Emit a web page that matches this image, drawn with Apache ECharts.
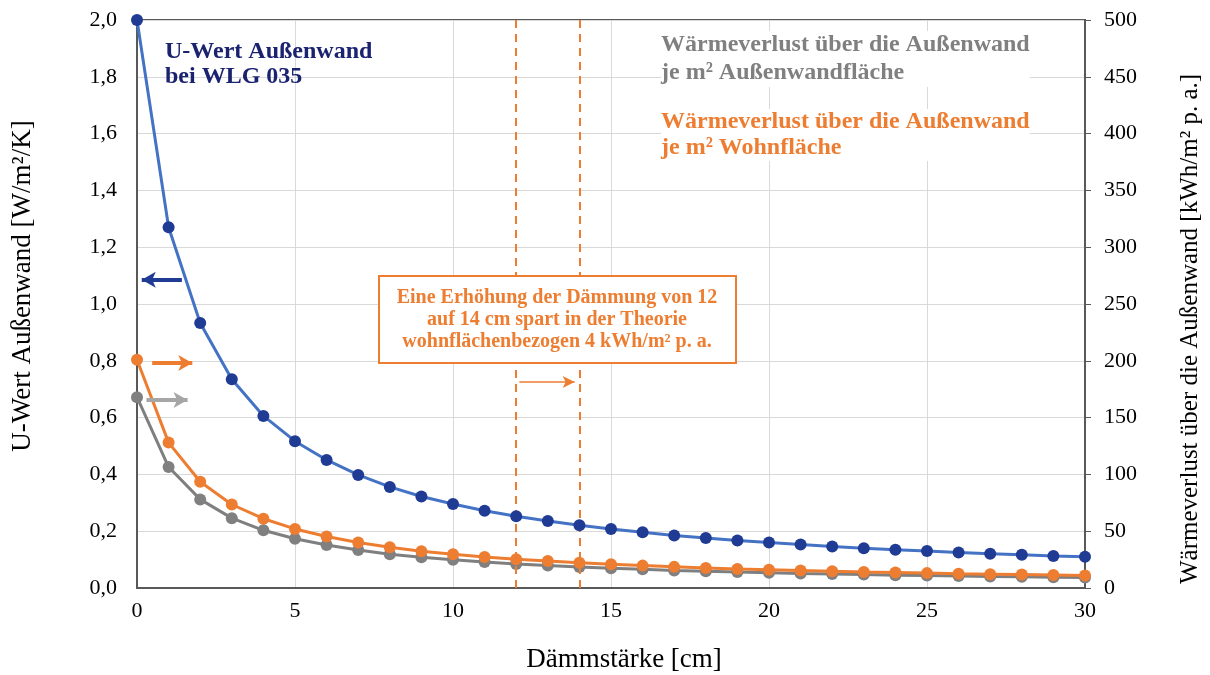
<!DOCTYPE html>
<html><head><meta charset="utf-8">
<script src="https://cdn.jsdelivr.net/npm/echarts@6/dist/echarts.min.js"></script>
<style>html,body{margin:0;padding:0;background:#fff}#c{width:1210px;height:675px}</style>
</head><body><div id="c"></div>
<script>
const thickness = [0,1,2,3,4,5,6,7,8,9,10,11,12,13,14,15,16,17,18,19,20,21,22,23,24,25,26,27,28,29,30];
const uWert = [2.0,1.27,0.933,0.735,0.606,0.517,0.451,0.398,0.356,0.322,0.296,0.272,0.253,0.236,0.221,0.208,0.196,0.185,0.176,0.167,0.160,0.153,0.146,0.140,0.135,0.130,0.125,0.121,0.117,0.113,0.110];
const verlustWohn = [201,128,93.5,73.5,61,52,45.3,40,35.8,32.4,29.7,27.3,25.4,23.7,22.2,20.9,19.7,18.6,17.7,16.8,16.1,15.4,14.7,14.1,13.6,13.1,12.6,12.2,11.8,11.4,11.0];
const verlustWand = [168,106.5,78,61.5,50.8,43.3,37.8,33.4,29.8,27,24.8,22.8,21.2,19.8,18.5,17.4,16.4,15.5,14.7,14.0,13.4,12.8,12.3,11.8,11.3,10.9,10.5,10.1,9.8,9.5,9.2];

const pairs = ys => thickness.map((x,i)=>[x, ys[i]]);
const serif = '"Liberation Serif","DejaVu Serif",serif';

const chart = echarts.init(document.getElementById('c'));
chart.setOption({
  animation:false,
  backgroundColor:'#fff',
  grid:{left:137,right:125,top:20,bottom:87,show:true,borderColor:'#595959',borderWidth:2,backgroundColor:'transparent'},
  xAxis:{type:'value',min:0,max:30,interval:5,
    axisLine:{lineStyle:{color:'#595959',width:2}},axisTick:{show:false},
    axisLabel:{fontFamily:serif,fontSize:22,color:'#000',margin:12},
    splitLine:{show:true,lineStyle:{color:'#d9d9d9',width:1}}},
  yAxis:[
    {type:'value',min:0,max:2,interval:0.2,
     axisLine:{show:true,lineStyle:{color:'#595959',width:2}},axisTick:{show:false},
     axisLabel:{fontFamily:serif,fontSize:22,color:'#000',margin:20,formatter:v=>v.toFixed(1).replace('.',',')},
     splitLine:{show:true,lineStyle:{color:'#d9d9d9',width:1}}},
    {type:'value',min:0,max:500,interval:50,position:'right',
     axisLine:{show:true,lineStyle:{color:'#595959',width:2}},
     axisTick:{show:true,inside:false,length:6,lineStyle:{color:'#595959'}},
     axisLabel:{fontFamily:serif,fontSize:22,color:'#000',margin:19},
     splitLine:{show:false}}
  ],
  series:[
    {name:'Wand',type:'line',yAxisIndex:1,data:pairs(verlustWand),symbol:'circle',symbolSize:12,
     lineStyle:{color:'#7f7f7f',width:3},itemStyle:{color:'#808080'},z:3},
    {name:'Wohn',type:'line',yAxisIndex:1,data:pairs(verlustWohn),symbol:'circle',symbolSize:12,
     lineStyle:{color:'#ed7d31',width:3},itemStyle:{color:'#ed7d31'},z:4},
    {name:'U',type:'line',yAxisIndex:0,data:pairs(uWert),symbol:'circle',symbolSize:12,
     lineStyle:{color:'#4472c4',width:3},itemStyle:{color:'#1f3b94'},z:5,
     markLine:{silent:true,animation:false,label:{show:false},symbol:['none','none'],
       data:[
         [{coord:[12,2.0],lineStyle:{color:'#ed7d31',width:2,type:[8,6]}},{coord:[12,0]}],
         [{coord:[14,2.0],lineStyle:{color:'#ed7d31',width:2,type:[8,6]}},{coord:[14,0]}],
         [{coord:[12.1,0.725],symbol:'none',lineStyle:{color:'#ed7d31',width:1.5,type:'solid'}},{coord:[13.85,0.725],symbol:'arrow',symbolSize:[9,12]}],
         [{coord:[1.42,1.085],symbol:'none',lineStyle:{color:'#1f3b94',width:4,type:'solid'}},{coord:[0.15,1.085],symbol:'arrow',symbolSize:[12,14]}],
         [{coord:[0.48,0.792],symbol:'none',lineStyle:{color:'#ed7d31',width:4,type:'solid'}},{coord:[1.75,0.792],symbol:'arrow',symbolSize:[12,14]}],
         [{coord:[0.3,0.662],symbol:'none',lineStyle:{color:'#a6a6a6',width:4,type:'solid'}},{coord:[1.6,0.662],symbol:'arrow',symbolSize:[12,14]}]
       ]}}
  ],
  graphic:[
    {type:'text',x:23,y:286,rotation:Math.PI/2,z:100,style:{text:'U-Wert Außenwand [W/m²/K]',font:'27px '+serif,fill:'#000',align:'center',verticalAlign:'middle'}},
    {type:'text',x:1190,y:329,rotation:Math.PI/2,z:100,style:{text:'Wärmeverlust über die Außenwand [kWh/m² p. a.]',font:'25px '+serif,fill:'#000',align:'center',verticalAlign:'middle'}},
    {type:'text',x:624,y:660,z:100,style:{text:'Dämmstärke [cm]',font:'27px '+serif,fill:'#000',align:'center',verticalAlign:'middle'}},
    {type:'text',left:165,top:39,z:100,style:{text:'U-Wert Außenwand\nbei WLG 035',font:'bold 24px '+serif,fill:'#1b2370',lineHeight:25}},
    {type:'text',left:661,top:31,z:100,style:{text:'Wärmeverlust über die Außenwand\nje m² Außenwandfläche',font:'bold 24px '+serif,fill:'#808080',lineHeight:28,backgroundColor:'#fff'}},
    {type:'text',left:661,top:109,z:100,style:{text:'Wärmeverlust über die Außenwand\nje m² Wohnfläche',font:'bold 24px '+serif,fill:'#ed7d31',lineHeight:26,backgroundColor:'#fff'}},
    {type:'rect',left:378,top:275,z:100,shape:{width:357,height:87},style:{fill:'#fff',stroke:'#ed7d31',lineWidth:2}},
    {type:'text',x:557,y:287,z:101,style:{text:'Eine Erhöhung der Dämmung von 12\nauf 14 cm spart in der Theorie\nwohnflächenbezogen 4 kWh/m² p. a.',font:'bold 20px '+serif,fill:'#ed7d31',lineHeight:22,align:'center',verticalAlign:'top'}}
  ]
});
</script></body></html>
